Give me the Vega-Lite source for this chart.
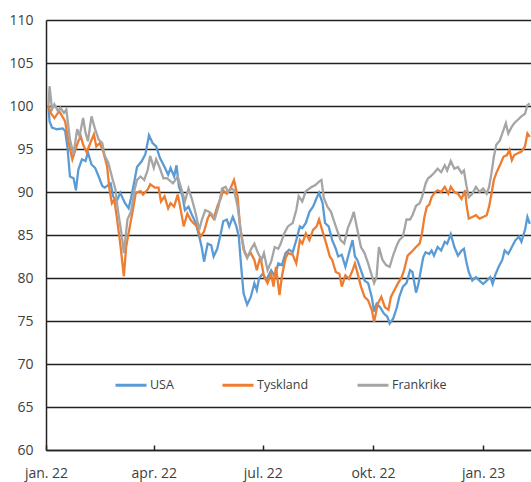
{
  "$schema": "https://vega.github.io/schema/vega-lite/v6.json",
  "width": 485,
  "height": 430,
  "autosize": {"type": "none"},
  "padding": {"left": 46, "top": 20, "right": 0, "bottom": 32},
  "background": "white",
  "config": {"view": {"stroke": null}, "font": "Open Sans"},
  "data": {"values": [
{"date":"2022-01-03","s":"USA","v":100},{"date":"2022-01-04","s":"USA","v":98.2},{"date":"2022-01-06","s":"USA","v":97.5},{"date":"2022-01-10","s":"USA","v":97.3},{"date":"2022-01-15","s":"USA","v":97.4},{"date":"2022-01-17","s":"USA","v":97.1},{"date":"2022-01-19","s":"USA","v":95.1},{"date":"2022-01-21","s":"USA","v":91.8},{"date":"2022-01-24","s":"USA","v":91.6},{"date":"2022-01-26","s":"USA","v":90.2},{"date":"2022-01-28","s":"USA","v":92.6},{"date":"2022-01-31","s":"USA","v":93.8},{"date":"2022-02-03","s":"USA","v":93.6},{"date":"2022-02-05","s":"USA","v":94.6},{"date":"2022-02-08","s":"USA","v":93.2},{"date":"2022-02-11","s":"USA","v":92.8},{"date":"2022-02-14","s":"USA","v":91.8},{"date":"2022-02-17","s":"USA","v":90.7},{"date":"2022-02-19","s":"USA","v":90.5},{"date":"2022-02-24","s":"USA","v":91},{"date":"2022-02-26","s":"USA","v":89.5},{"date":"2022-03-01","s":"USA","v":88.9},{"date":"2022-03-04","s":"USA","v":89.9},{"date":"2022-03-08","s":"USA","v":88.7},{"date":"2022-03-11","s":"USA","v":88.1},{"date":"2022-03-13","s":"USA","v":89.3},{"date":"2022-03-16","s":"USA","v":91.4},{"date":"2022-03-18","s":"USA","v":92.9},{"date":"2022-03-22","s":"USA","v":93.6},{"date":"2022-03-25","s":"USA","v":94.4},{"date":"2022-03-28","s":"USA","v":96.6},{"date":"2022-03-31","s":"USA","v":95.7},{"date":"2022-04-03","s":"USA","v":95.3},{"date":"2022-04-06","s":"USA","v":94},{"date":"2022-04-10","s":"USA","v":92.9},{"date":"2022-04-13","s":"USA","v":92},{"date":"2022-04-15","s":"USA","v":92.8},{"date":"2022-04-18","s":"USA","v":91.8},{"date":"2022-04-20","s":"USA","v":93.1},{"date":"2022-04-22","s":"USA","v":90.6},{"date":"2022-04-25","s":"USA","v":89.5},{"date":"2022-04-27","s":"USA","v":87.9},{"date":"2022-04-30","s":"USA","v":88.3},{"date":"2022-05-03","s":"USA","v":87.3},{"date":"2022-05-06","s":"USA","v":86.4},{"date":"2022-05-09","s":"USA","v":84.8},{"date":"2022-05-11","s":"USA","v":83.6},{"date":"2022-05-13","s":"USA","v":81.9},{"date":"2022-05-16","s":"USA","v":84},{"date":"2022-05-19","s":"USA","v":83.8},{"date":"2022-05-21","s":"USA","v":82.5},{"date":"2022-05-24","s":"USA","v":83.4},{"date":"2022-05-27","s":"USA","v":85.2},{"date":"2022-05-29","s":"USA","v":86.6},{"date":"2022-06-01","s":"USA","v":86.8},{"date":"2022-06-03","s":"USA","v":86},{"date":"2022-06-06","s":"USA","v":87.1},{"date":"2022-06-09","s":"USA","v":86},{"date":"2022-06-11","s":"USA","v":84.8},{"date":"2022-06-13","s":"USA","v":81.3},{"date":"2022-06-15","s":"USA","v":78.2},{"date":"2022-06-18","s":"USA","v":76.9},{"date":"2022-06-21","s":"USA","v":77.8},{"date":"2022-06-24","s":"USA","v":79.4},{"date":"2022-06-26","s":"USA","v":78.6},{"date":"2022-06-28","s":"USA","v":80},{"date":"2022-07-01","s":"USA","v":80.5},{"date":"2022-07-04","s":"USA","v":79.8},{"date":"2022-07-08","s":"USA","v":80.9},{"date":"2022-07-11","s":"USA","v":80.2},{"date":"2022-07-14","s":"USA","v":81.7},{"date":"2022-07-17","s":"USA","v":81.5},{"date":"2022-07-20","s":"USA","v":82.9},{"date":"2022-07-23","s":"USA","v":83.3},{"date":"2022-07-26","s":"USA","v":83},{"date":"2022-07-29","s":"USA","v":84.4},{"date":"2022-08-01","s":"USA","v":86},{"date":"2022-08-03","s":"USA","v":85.8},{"date":"2022-08-06","s":"USA","v":86.4},{"date":"2022-08-09","s":"USA","v":87.7},{"date":"2022-08-12","s":"USA","v":88.3},{"date":"2022-08-15","s":"USA","v":89.3},{"date":"2022-08-17","s":"USA","v":89.9},{"date":"2022-08-20","s":"USA","v":88.7},{"date":"2022-08-22","s":"USA","v":86.4},{"date":"2022-08-25","s":"USA","v":86},{"date":"2022-08-28","s":"USA","v":84.4},{"date":"2022-08-31","s":"USA","v":83.4},{"date":"2022-09-02","s":"USA","v":82.5},{"date":"2022-09-05","s":"USA","v":82.7},{"date":"2022-09-08","s":"USA","v":81.3},{"date":"2022-09-11","s":"USA","v":82.9},{"date":"2022-09-14","s":"USA","v":84.4},{"date":"2022-09-16","s":"USA","v":82.5},{"date":"2022-09-18","s":"USA","v":82.1},{"date":"2022-09-21","s":"USA","v":80.9},{"date":"2022-09-24","s":"USA","v":79.7},{"date":"2022-09-27","s":"USA","v":79.4},{"date":"2022-09-30","s":"USA","v":77.8},{"date":"2022-10-02","s":"USA","v":76.1},{"date":"2022-10-04","s":"USA","v":77},{"date":"2022-10-07","s":"USA","v":76.6},{"date":"2022-10-10","s":"USA","v":75.9},{"date":"2022-10-13","s":"USA","v":75.5},{"date":"2022-10-15","s":"USA","v":74.7},{"date":"2022-10-18","s":"USA","v":75.3},{"date":"2022-10-21","s":"USA","v":76.6},{"date":"2022-10-23","s":"USA","v":77.8},{"date":"2022-10-26","s":"USA","v":79},{"date":"2022-10-29","s":"USA","v":79.4},{"date":"2022-11-01","s":"USA","v":80.9},{"date":"2022-11-03","s":"USA","v":80.7},{"date":"2022-11-06","s":"USA","v":78.3},{"date":"2022-11-08","s":"USA","v":79.3},{"date":"2022-11-10","s":"USA","v":80.9},{"date":"2022-11-12","s":"USA","v":82.4},{"date":"2022-11-14","s":"USA","v":83},{"date":"2022-11-17","s":"USA","v":82.8},{"date":"2022-11-19","s":"USA","v":83.2},{"date":"2022-11-21","s":"USA","v":82.6},{"date":"2022-11-24","s":"USA","v":83.6},{"date":"2022-11-27","s":"USA","v":83.2},{"date":"2022-11-30","s":"USA","v":84.2},{"date":"2022-12-02","s":"USA","v":84},{"date":"2022-12-05","s":"USA","v":85.1},{"date":"2022-12-08","s":"USA","v":83.6},{"date":"2022-12-11","s":"USA","v":82.6},{"date":"2022-12-14","s":"USA","v":83.2},{"date":"2022-12-16","s":"USA","v":83.4},{"date":"2022-12-18","s":"USA","v":81.9},{"date":"2022-12-20","s":"USA","v":80.7},{"date":"2022-12-23","s":"USA","v":79.7},{"date":"2022-12-26","s":"USA","v":80.1},{"date":"2022-12-29","s":"USA","v":79.7},{"date":"2023-01-01","s":"USA","v":79.3},{"date":"2023-01-04","s":"USA","v":79.7},{"date":"2023-01-07","s":"USA","v":80.1},{"date":"2023-01-09","s":"USA","v":79.3},{"date":"2023-01-11","s":"USA","v":80.3},{"date":"2023-01-14","s":"USA","v":81.3},{"date":"2023-01-17","s":"USA","v":82.1},{"date":"2023-01-19","s":"USA","v":83.2},{"date":"2023-01-22","s":"USA","v":82.8},{"date":"2023-01-25","s":"USA","v":83.6},{"date":"2023-01-28","s":"USA","v":84.4},{"date":"2023-01-31","s":"USA","v":84.8},{"date":"2023-02-02","s":"USA","v":84.2},{"date":"2023-02-05","s":"USA","v":85.6},{"date":"2023-02-07","s":"USA","v":87.1},{"date":"2023-02-09","s":"USA","v":86.3},
{"date":"2022-01-03","s":"Tyskland","v":100},{"date":"2022-01-05","s":"Tyskland","v":99.2},{"date":"2022-01-08","s":"Tyskland","v":98.6},{"date":"2022-01-12","s":"Tyskland","v":99.4},{"date":"2022-01-17","s":"Tyskland","v":98.2},{"date":"2022-01-20","s":"Tyskland","v":95.7},{"date":"2022-01-23","s":"Tyskland","v":93.8},{"date":"2022-01-26","s":"Tyskland","v":95.1},{"date":"2022-01-28","s":"Tyskland","v":95.9},{"date":"2022-01-30","s":"Tyskland","v":96.5},{"date":"2022-02-01","s":"Tyskland","v":95.5},{"date":"2022-02-04","s":"Tyskland","v":94.6},{"date":"2022-02-07","s":"Tyskland","v":95.7},{"date":"2022-02-10","s":"Tyskland","v":96.7},{"date":"2022-02-12","s":"Tyskland","v":95.3},{"date":"2022-02-15","s":"Tyskland","v":95.7},{"date":"2022-02-18","s":"Tyskland","v":94.6},{"date":"2022-02-21","s":"Tyskland","v":93},{"date":"2022-02-23","s":"Tyskland","v":90.3},{"date":"2022-02-25","s":"Tyskland","v":88.7},{"date":"2022-02-27","s":"Tyskland","v":89.1},{"date":"2022-03-01","s":"Tyskland","v":87.2},{"date":"2022-03-04","s":"Tyskland","v":84},{"date":"2022-03-07","s":"Tyskland","v":80.2},{"date":"2022-03-09","s":"Tyskland","v":83.7},{"date":"2022-03-12","s":"Tyskland","v":86},{"date":"2022-03-14","s":"Tyskland","v":87.5},{"date":"2022-03-17","s":"Tyskland","v":89.9},{"date":"2022-03-21","s":"Tyskland","v":90.1},{"date":"2022-03-23","s":"Tyskland","v":89.7},{"date":"2022-03-27","s":"Tyskland","v":90.3},{"date":"2022-03-29","s":"Tyskland","v":90.9},{"date":"2022-04-02","s":"Tyskland","v":90.5},{"date":"2022-04-05","s":"Tyskland","v":90.5},{"date":"2022-04-07","s":"Tyskland","v":88.9},{"date":"2022-04-10","s":"Tyskland","v":89.5},{"date":"2022-04-13","s":"Tyskland","v":88.1},{"date":"2022-04-15","s":"Tyskland","v":88.7},{"date":"2022-04-18","s":"Tyskland","v":88.3},{"date":"2022-04-21","s":"Tyskland","v":89.7},{"date":"2022-04-23","s":"Tyskland","v":88.3},{"date":"2022-04-26","s":"Tyskland","v":86},{"date":"2022-04-29","s":"Tyskland","v":87.5},{"date":"2022-05-02","s":"Tyskland","v":86.7},{"date":"2022-05-04","s":"Tyskland","v":86.4},{"date":"2022-05-07","s":"Tyskland","v":86},{"date":"2022-05-10","s":"Tyskland","v":84.8},{"date":"2022-05-13","s":"Tyskland","v":85.4},{"date":"2022-05-16","s":"Tyskland","v":86.9},{"date":"2022-05-18","s":"Tyskland","v":87.5},{"date":"2022-05-21","s":"Tyskland","v":86.9},{"date":"2022-05-24","s":"Tyskland","v":88.3},{"date":"2022-05-27","s":"Tyskland","v":89.3},{"date":"2022-05-29","s":"Tyskland","v":90.2},{"date":"2022-06-01","s":"Tyskland","v":89.8},{"date":"2022-06-04","s":"Tyskland","v":90.4},{"date":"2022-06-07","s":"Tyskland","v":91.4},{"date":"2022-06-10","s":"Tyskland","v":89.5},{"date":"2022-06-12","s":"Tyskland","v":86},{"date":"2022-06-15","s":"Tyskland","v":83.3},{"date":"2022-06-18","s":"Tyskland","v":82.5},{"date":"2022-06-21","s":"Tyskland","v":82.9},{"date":"2022-06-24","s":"Tyskland","v":82.1},{"date":"2022-06-26","s":"Tyskland","v":80.9},{"date":"2022-06-29","s":"Tyskland","v":82.5},{"date":"2022-07-02","s":"Tyskland","v":80.2},{"date":"2022-07-05","s":"Tyskland","v":79.4},{"date":"2022-07-08","s":"Tyskland","v":80.5},{"date":"2022-07-10","s":"Tyskland","v":79},{"date":"2022-07-12","s":"Tyskland","v":81.3},{"date":"2022-07-15","s":"Tyskland","v":78},{"date":"2022-07-17","s":"Tyskland","v":80.2},{"date":"2022-07-20","s":"Tyskland","v":82.3},{"date":"2022-07-22","s":"Tyskland","v":82.9},{"date":"2022-07-26","s":"Tyskland","v":82.7},{"date":"2022-07-29","s":"Tyskland","v":81.7},{"date":"2022-08-01","s":"Tyskland","v":84.4},{"date":"2022-08-03","s":"Tyskland","v":84},{"date":"2022-08-06","s":"Tyskland","v":85.2},{"date":"2022-08-09","s":"Tyskland","v":84.4},{"date":"2022-08-12","s":"Tyskland","v":85.6},{"date":"2022-08-15","s":"Tyskland","v":86},{"date":"2022-08-17","s":"Tyskland","v":86.8},{"date":"2022-08-20","s":"Tyskland","v":85.4},{"date":"2022-08-23","s":"Tyskland","v":84},{"date":"2022-08-26","s":"Tyskland","v":82.5},{"date":"2022-08-28","s":"Tyskland","v":82.1},{"date":"2022-08-31","s":"Tyskland","v":80.7},{"date":"2022-09-03","s":"Tyskland","v":80.5},{"date":"2022-09-05","s":"Tyskland","v":79},{"date":"2022-09-08","s":"Tyskland","v":80.3},{"date":"2022-09-11","s":"Tyskland","v":79.9},{"date":"2022-09-14","s":"Tyskland","v":80.9},{"date":"2022-09-16","s":"Tyskland","v":81.7},{"date":"2022-09-19","s":"Tyskland","v":80.1},{"date":"2022-09-21","s":"Tyskland","v":79},{"date":"2022-09-24","s":"Tyskland","v":77.8},{"date":"2022-09-27","s":"Tyskland","v":77.4},{"date":"2022-09-30","s":"Tyskland","v":76.3},{"date":"2022-10-02","s":"Tyskland","v":74.9},{"date":"2022-10-05","s":"Tyskland","v":77},{"date":"2022-10-08","s":"Tyskland","v":77.8},{"date":"2022-10-11","s":"Tyskland","v":76.6},{"date":"2022-10-14","s":"Tyskland","v":76.3},{"date":"2022-10-16","s":"Tyskland","v":77.8},{"date":"2022-10-19","s":"Tyskland","v":78.6},{"date":"2022-10-22","s":"Tyskland","v":79.4},{"date":"2022-10-25","s":"Tyskland","v":80.1},{"date":"2022-10-27","s":"Tyskland","v":80.9},{"date":"2022-10-30","s":"Tyskland","v":82.6},{"date":"2022-11-02","s":"Tyskland","v":83},{"date":"2022-11-06","s":"Tyskland","v":83.6},{"date":"2022-11-09","s":"Tyskland","v":84},{"date":"2022-11-11","s":"Tyskland","v":85.2},{"date":"2022-11-13","s":"Tyskland","v":87.1},{"date":"2022-11-15","s":"Tyskland","v":88.3},{"date":"2022-11-17","s":"Tyskland","v":88.5},{"date":"2022-11-19","s":"Tyskland","v":89.4},{"date":"2022-11-22","s":"Tyskland","v":90},{"date":"2022-11-24","s":"Tyskland","v":90.2},{"date":"2022-11-27","s":"Tyskland","v":90},{"date":"2022-11-30","s":"Tyskland","v":90.6},{"date":"2022-12-03","s":"Tyskland","v":89.8},{"date":"2022-12-05","s":"Tyskland","v":90.6},{"date":"2022-12-08","s":"Tyskland","v":90},{"date":"2022-12-11","s":"Tyskland","v":89.8},{"date":"2022-12-14","s":"Tyskland","v":89.2},{"date":"2022-12-17","s":"Tyskland","v":90.2},{"date":"2022-12-18","s":"Tyskland","v":88.7},{"date":"2022-12-20","s":"Tyskland","v":86.9},{"date":"2022-12-23","s":"Tyskland","v":87.1},{"date":"2022-12-26","s":"Tyskland","v":87.3},{"date":"2022-12-29","s":"Tyskland","v":86.9},{"date":"2023-01-01","s":"Tyskland","v":87.1},{"date":"2023-01-04","s":"Tyskland","v":87.3},{"date":"2023-01-06","s":"Tyskland","v":88.3},{"date":"2023-01-08","s":"Tyskland","v":89.8},{"date":"2023-01-10","s":"Tyskland","v":91.4},{"date":"2023-01-12","s":"Tyskland","v":92.2},{"date":"2023-01-15","s":"Tyskland","v":93.1},{"date":"2023-01-18","s":"Tyskland","v":94.1},{"date":"2023-01-21","s":"Tyskland","v":94.3},{"date":"2023-01-23","s":"Tyskland","v":94.9},{"date":"2023-01-25","s":"Tyskland","v":93.7},{"date":"2023-01-27","s":"Tyskland","v":94.3},{"date":"2023-01-30","s":"Tyskland","v":94.5},{"date":"2023-02-02","s":"Tyskland","v":94.7},{"date":"2023-02-05","s":"Tyskland","v":95.3},{"date":"2023-02-07","s":"Tyskland","v":96.8},{"date":"2023-02-09","s":"Tyskland","v":96.4},
{"date":"2022-01-03","s":"Frankrike","v":100},{"date":"2022-01-04","s":"Frankrike","v":102.3},{"date":"2022-01-06","s":"Frankrike","v":99.6},{"date":"2022-01-08","s":"Frankrike","v":100.2},{"date":"2022-01-11","s":"Frankrike","v":99.4},{"date":"2022-01-13","s":"Frankrike","v":99.8},{"date":"2022-01-16","s":"Frankrike","v":99.2},{"date":"2022-01-18","s":"Frankrike","v":99.6},{"date":"2022-01-21","s":"Frankrike","v":96.1},{"date":"2022-01-24","s":"Frankrike","v":94.4},{"date":"2022-01-27","s":"Frankrike","v":97.3},{"date":"2022-01-29","s":"Frankrike","v":96.5},{"date":"2022-02-01","s":"Frankrike","v":98.6},{"date":"2022-02-03","s":"Frankrike","v":96.9},{"date":"2022-02-05","s":"Frankrike","v":95.9},{"date":"2022-02-08","s":"Frankrike","v":98.8},{"date":"2022-02-11","s":"Frankrike","v":97.3},{"date":"2022-02-14","s":"Frankrike","v":96.1},{"date":"2022-02-17","s":"Frankrike","v":95.7},{"date":"2022-02-19","s":"Frankrike","v":94.2},{"date":"2022-02-22","s":"Frankrike","v":93.4},{"date":"2022-02-25","s":"Frankrike","v":91.8},{"date":"2022-02-28","s":"Frankrike","v":90.3},{"date":"2022-03-02","s":"Frankrike","v":87.9},{"date":"2022-03-05","s":"Frankrike","v":85.2},{"date":"2022-03-07","s":"Frankrike","v":82.9},{"date":"2022-03-10","s":"Frankrike","v":86.8},{"date":"2022-03-13","s":"Frankrike","v":87.7},{"date":"2022-03-16","s":"Frankrike","v":90.3},{"date":"2022-03-18","s":"Frankrike","v":91.4},{"date":"2022-03-21","s":"Frankrike","v":91.8},{"date":"2022-03-24","s":"Frankrike","v":91.4},{"date":"2022-03-27","s":"Frankrike","v":92.6},{"date":"2022-03-29","s":"Frankrike","v":94.2},{"date":"2022-04-01","s":"Frankrike","v":92.8},{"date":"2022-04-03","s":"Frankrike","v":93.8},{"date":"2022-04-06","s":"Frankrike","v":92.8},{"date":"2022-04-09","s":"Frankrike","v":91.6},{"date":"2022-04-12","s":"Frankrike","v":91.6},{"date":"2022-04-17","s":"Frankrike","v":91},{"date":"2022-04-21","s":"Frankrike","v":91.8},{"date":"2022-04-24","s":"Frankrike","v":90.4},{"date":"2022-04-27","s":"Frankrike","v":88.9},{"date":"2022-04-30","s":"Frankrike","v":90.4},{"date":"2022-05-03","s":"Frankrike","v":89.1},{"date":"2022-05-06","s":"Frankrike","v":87.5},{"date":"2022-05-09","s":"Frankrike","v":85.6},{"date":"2022-05-11","s":"Frankrike","v":86.7},{"date":"2022-05-14","s":"Frankrike","v":87.9},{"date":"2022-05-17","s":"Frankrike","v":87.7},{"date":"2022-05-19","s":"Frankrike","v":87.5},{"date":"2022-05-22","s":"Frankrike","v":86.9},{"date":"2022-05-25","s":"Frankrike","v":88.3},{"date":"2022-05-28","s":"Frankrike","v":90.4},{"date":"2022-05-31","s":"Frankrike","v":90.6},{"date":"2022-06-02","s":"Frankrike","v":90},{"date":"2022-06-05","s":"Frankrike","v":90.4},{"date":"2022-06-07","s":"Frankrike","v":90.2},{"date":"2022-06-10","s":"Frankrike","v":88.3},{"date":"2022-06-13","s":"Frankrike","v":85.2},{"date":"2022-06-16","s":"Frankrike","v":82.9},{"date":"2022-06-18","s":"Frankrike","v":82.3},{"date":"2022-06-21","s":"Frankrike","v":83.3},{"date":"2022-06-24","s":"Frankrike","v":84},{"date":"2022-06-27","s":"Frankrike","v":82.9},{"date":"2022-06-30","s":"Frankrike","v":82.1},{"date":"2022-07-02","s":"Frankrike","v":82.9},{"date":"2022-07-05","s":"Frankrike","v":80.9},{"date":"2022-07-08","s":"Frankrike","v":81.9},{"date":"2022-07-11","s":"Frankrike","v":83.6},{"date":"2022-07-14","s":"Frankrike","v":83.4},{"date":"2022-07-16","s":"Frankrike","v":84},{"date":"2022-07-19","s":"Frankrike","v":85.2},{"date":"2022-07-22","s":"Frankrike","v":86},{"date":"2022-07-26","s":"Frankrike","v":86.4},{"date":"2022-07-29","s":"Frankrike","v":87.9},{"date":"2022-07-31","s":"Frankrike","v":89.5},{"date":"2022-08-03","s":"Frankrike","v":88.9},{"date":"2022-08-06","s":"Frankrike","v":90.1},{"date":"2022-08-08","s":"Frankrike","v":90.3},{"date":"2022-08-11","s":"Frankrike","v":90.6},{"date":"2022-08-14","s":"Frankrike","v":90.8},{"date":"2022-08-17","s":"Frankrike","v":91.2},{"date":"2022-08-19","s":"Frankrike","v":91.4},{"date":"2022-08-21","s":"Frankrike","v":89.3},{"date":"2022-08-24","s":"Frankrike","v":88.3},{"date":"2022-08-27","s":"Frankrike","v":87.7},{"date":"2022-08-30","s":"Frankrike","v":86.4},{"date":"2022-09-01","s":"Frankrike","v":85.6},{"date":"2022-09-04","s":"Frankrike","v":84.4},{"date":"2022-09-07","s":"Frankrike","v":84},{"date":"2022-09-10","s":"Frankrike","v":85.8},{"date":"2022-09-13","s":"Frankrike","v":86.8},{"date":"2022-09-15","s":"Frankrike","v":87.7},{"date":"2022-09-18","s":"Frankrike","v":85.6},{"date":"2022-09-21","s":"Frankrike","v":83.6},{"date":"2022-09-24","s":"Frankrike","v":82.9},{"date":"2022-09-27","s":"Frankrike","v":81.7},{"date":"2022-09-30","s":"Frankrike","v":80.3},{"date":"2022-10-02","s":"Frankrike","v":79.4},{"date":"2022-10-04","s":"Frankrike","v":80.1},{"date":"2022-10-06","s":"Frankrike","v":83.6},{"date":"2022-10-09","s":"Frankrike","v":82.1},{"date":"2022-10-12","s":"Frankrike","v":81.5},{"date":"2022-10-15","s":"Frankrike","v":81.3},{"date":"2022-10-18","s":"Frankrike","v":82.7},{"date":"2022-10-21","s":"Frankrike","v":83.8},{"date":"2022-10-23","s":"Frankrike","v":84.4},{"date":"2022-10-26","s":"Frankrike","v":84.8},{"date":"2022-10-29","s":"Frankrike","v":86.8},{"date":"2022-11-01","s":"Frankrike","v":86.8},{"date":"2022-11-03","s":"Frankrike","v":87.3},{"date":"2022-11-06","s":"Frankrike","v":88.4},{"date":"2022-11-09","s":"Frankrike","v":88.7},{"date":"2022-11-11","s":"Frankrike","v":89.4},{"date":"2022-11-14","s":"Frankrike","v":91},{"date":"2022-11-16","s":"Frankrike","v":91.6},{"date":"2022-11-18","s":"Frankrike","v":91.8},{"date":"2022-11-21","s":"Frankrike","v":92.2},{"date":"2022-11-24","s":"Frankrike","v":92.7},{"date":"2022-11-27","s":"Frankrike","v":92.3},{"date":"2022-11-30","s":"Frankrike","v":93.1},{"date":"2022-12-02","s":"Frankrike","v":92.5},{"date":"2022-12-05","s":"Frankrike","v":93.6},{"date":"2022-12-08","s":"Frankrike","v":92.7},{"date":"2022-12-11","s":"Frankrike","v":92.9},{"date":"2022-12-14","s":"Frankrike","v":92.2},{"date":"2022-12-16","s":"Frankrike","v":92.5},{"date":"2022-12-18","s":"Frankrike","v":90.8},{"date":"2022-12-20","s":"Frankrike","v":89.4},{"date":"2022-12-23","s":"Frankrike","v":89.8},{"date":"2022-12-26","s":"Frankrike","v":90.6},{"date":"2022-12-29","s":"Frankrike","v":90},{"date":"2023-01-01","s":"Frankrike","v":90.4},{"date":"2023-01-04","s":"Frankrike","v":89.8},{"date":"2023-01-06","s":"Frankrike","v":90.6},{"date":"2023-01-08","s":"Frankrike","v":92.2},{"date":"2023-01-10","s":"Frankrike","v":94.1},{"date":"2023-01-12","s":"Frankrike","v":95.5},{"date":"2023-01-15","s":"Frankrike","v":96},{"date":"2023-01-18","s":"Frankrike","v":97.2},{"date":"2023-01-20","s":"Frankrike","v":98},{"date":"2023-01-22","s":"Frankrike","v":96.8},{"date":"2023-01-25","s":"Frankrike","v":97.6},{"date":"2023-01-27","s":"Frankrike","v":98},{"date":"2023-01-30","s":"Frankrike","v":98.4},{"date":"2023-02-02","s":"Frankrike","v":98.8},{"date":"2023-02-05","s":"Frankrike","v":99.1},{"date":"2023-02-07","s":"Frankrike","v":100.1},{"date":"2023-02-09","s":"Frankrike","v":100.3}
  ]},
  "mark": {"type": "line", "strokeWidth": 2.3, "clip": true},
  "encoding": {
    "x": {
      "field": "date",
      "type": "temporal",
      "scale": {"domain": [{"year": 2022, "month": 1, "date": 1}, {"year": 2023, "month": 2, "date": 10}]},
      "axis": {
        "title": null,
        "grid": false,
        "values": [
          {"year": 2022, "month": 1, "date": 1},
          {"year": 2022, "month": 4, "date": 1},
          {"year": 2022, "month": 7, "date": 1},
          {"year": 2022, "month": 10, "date": 1},
          {"year": 2023, "month": 1, "date": 1}
        ],
        "labelExpr": "['jan.','feb.','mar.','apr.','mai','jun.','jul.','aug.','sep.','okt.','nov.','des.'][month(datum.value)] + ' ' + timeFormat(datum.value, '%y')",
        "labelFontSize": 14,
        "labelColor": "#404040",
        "labelPadding": 21,
        "labelFlush": false,
        "domainColor": "#222222",
        "domainWidth": 1.5,
        "tickColor": "#222222",
        "tickWidth": 1.5,
        "tickSize": -5
      }
    },
    "y": {
      "field": "v",
      "type": "quantitative",
      "scale": {"domain": [60, 110], "nice": false, "zero": false},
      "axis": {
        "title": null,
        "values": [60, 65, 70, 75, 80, 85, 90, 95, 100, 105, 110],
        "ticks": false,
        "labelFontSize": 14,
        "labelColor": "#404040",
        "labelPadding": 13,
        "domainColor": "#222222",
        "domainWidth": 1.5,
        "gridColor": "#222222",
        "gridWidth": 1.5,
        "gridOpacity": 1
      }
    },
    "color": {
      "field": "s",
      "type": "nominal",
      "scale": {"domain": ["USA", "Tyskland", "Frankrike"], "range": ["#5B9BD5", "#ED7D31", "#A5A5A5"]},
      "legend": {
        "title": null,
        "orient": "none",
        "legendX": 68,
        "legendY": 348,
        "direction": "horizontal",
        "columns": 3,
        "symbolType": "stroke",
        "symbolSize": 961,
        "symbolStrokeWidth": 3,
        "labelFontSize": 12.5,
        "labelColor": "#404040",
        "labelOffset": 2,
        "columnPadding": 42,
        "padding": 0
      }
    }
  }
}
